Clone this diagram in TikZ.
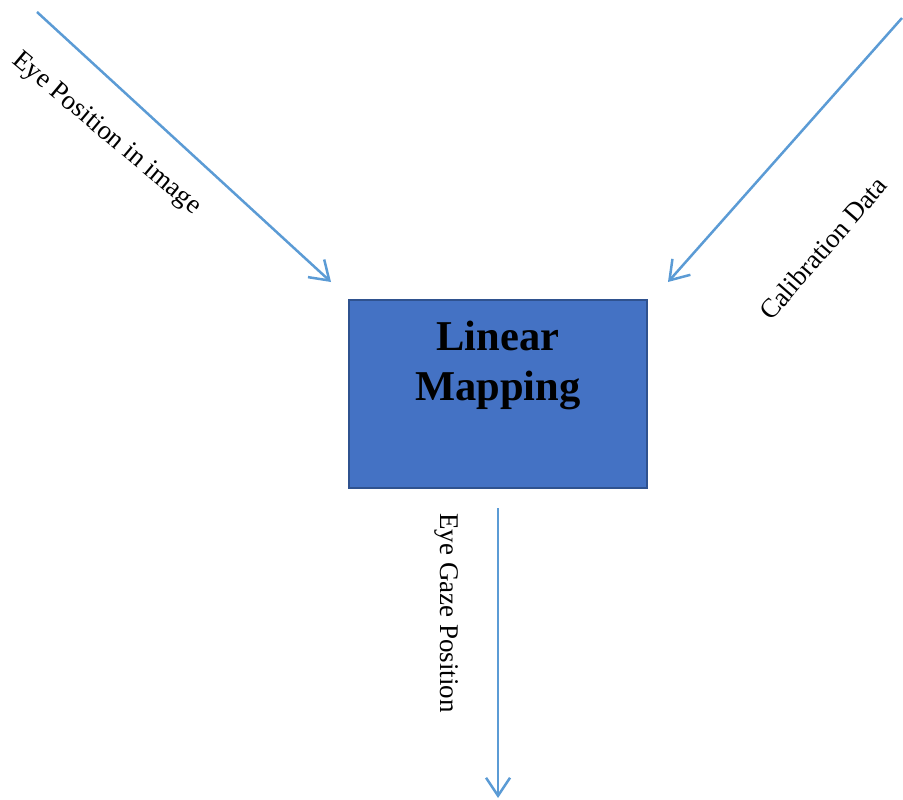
\documentclass[tikz,border=0pt]{standalone}
\usepackage{fontspec}
\setmainfont{Liberation Serif}
\usepackage{xcolor}
\usepackage{tikz}
\usetikzlibrary{arrows.meta,positioning}

\definecolor{boxblue}{HTML}{4472C4}
\definecolor{boxedge}{HTML}{2F528F}
\definecolor{flowblue}{HTML}{5B9BD5}

\begin{document}
\begin{tikzpicture}[x=1pt,y=-1pt]
			\tikzstyle{mapbox}=[draw=boxedge, fill=boxblue, line width=2pt, minimum width=298pt, minimum height=188pt, inner sep=0pt]
			\tikzstyle{maptext}=[align=center, inner sep=0pt, font=\fontsize{42.5}{50}\selectfont\bfseries]
			\tikzstyle{flow}=[flowblue, line width=2.5pt, -{Straight Barb[length=18pt,width=24pt]}]
			\tikzstyle{tag}=[font=\fontsize{27}{30}\selectfont, inner sep=0pt]
			
			\useasboundingbox (0,0) rectangle (903,800);
			
			\node[mapbox]  (map) at (498,394) {};
			\node[maptext, below=22pt of map.north] (maptitle) {Linear\\Mapping};
			
			\coordinate (eyein)   at (37,12);
			\coordinate (calin)   at (902,18);
			\coordinate (gazeout) at (498,798);
			
			\draw[flow] (eyein) -- ([shift={(-17,-17)}]map.north west);
			\draw[flow] (calin) -- ([shift={(20,-17)}]map.north east);
			\draw[flow] ([shift={(0,19)}]map.south) -- (gazeout);
			
			\node[tag, rotate=-40] (eyetag)  at (106,134) {Eye Position in image};
			\node[tag, rotate=49]  (caltag)  at (823,248) {Calibration Data};
			\node[tag, rotate=-90] (gazetag) at (447,613) {Eye Gaze Position};
\end{tikzpicture}
\end{document}
